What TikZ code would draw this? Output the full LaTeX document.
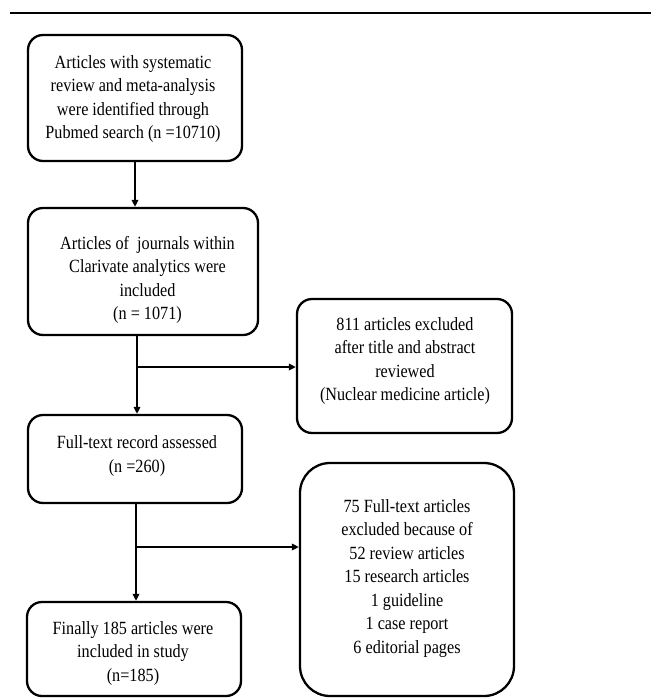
\documentclass[tikz,border=0pt]{standalone}
\usepackage{fontspec}
\setmainfont{Liberation Serif}
\usetikzlibrary{arrows.meta}
\newcommand\tallstack[1]{\scalebox{1}[1.15]{\begin{tabular}{@{}c@{}}#1\end{tabular}}}
\begin{document}
\begin{tikzpicture}[x=1pt,y=-1pt,
  box/.style={draw=black,line width=2.3pt,rounded corners=15pt,inner sep=0pt},
  txt/.style={align=center,inner sep=0pt,font=\fontsize{16.2pt}{20.4pt}\selectfont},
  arr/.style={draw=black,line width=1.6pt,-{Triangle[length=7pt,width=6.5pt]}}]
\useasboundingbox (0,0) rectangle (651,698);
\draw[line width=2.6pt] (10,13) coordinate (r0) -- (651,13) coordinate (r1);
% boxes
\node[box,minimum width=214pt,minimum height=126pt] (b1) at (135,98) {};
\node[box,minimum width=230pt,minimum height=127pt] (b2) at (143,271.5) {};
\node[box,minimum width=215pt,minimum height=134pt] (b3) at (404.5,366) {};
\node[box,minimum width=214pt,minimum height=88pt] (b4) at (135,459) {};
\node[box,rounded corners=30pt,minimum width=214pt,minimum height=233pt] (b5) at (407,579.5) {};
\node[box,minimum width=214pt,minimum height=94pt] (b6) at (134,649) {};
% texts
\node[txt] (t1) at (133,99) {\tallstack{Articles with systematic\\review and meta-analysis\\were identified through\\Pubmed search (n =10710)}};
\node[txt] (t2) at (147.5,280) {\tallstack{Articles of\ \ journals within\\Clarivate analytics were\\included\\(n = 1071)}};
\node[txt] (t3) at (405,361) {\tallstack{811 articles excluded\\after title and abstract\\reviewed\\(Nuclear medicine article)}};
\node[txt] (t4) at (137,456) {\tallstack{Full-text record assessed\\(n =260)}};
\node[txt] (t5) at (407,578) {\tallstack{75 Full-text articles\\excluded because of\\52 review articles\\15 research articles\\1 guideline\\1 case report\\6 editorial pages}};
\node[txt] (t6) at (133,653) {\tallstack{Finally 185 articles were\\included in study\\(n=185)}};
% connectors
\coordinate (j1) at (137,367);
\coordinate (j2) at (136,547);
\draw[arr] (b1.south) -- (b1.south |- b2.north);
\draw[arr] (b2.south -| j1) -- (j1 |- b4.north);
\draw[arr] (j1) -- (j1 -| b3.west);
\draw[arr] (b4.south -| j2) -- (j2 |- b6.north);
\draw[arr] (j2) -- (j2 -| b5.west);
\end{tikzpicture}
\end{document}
